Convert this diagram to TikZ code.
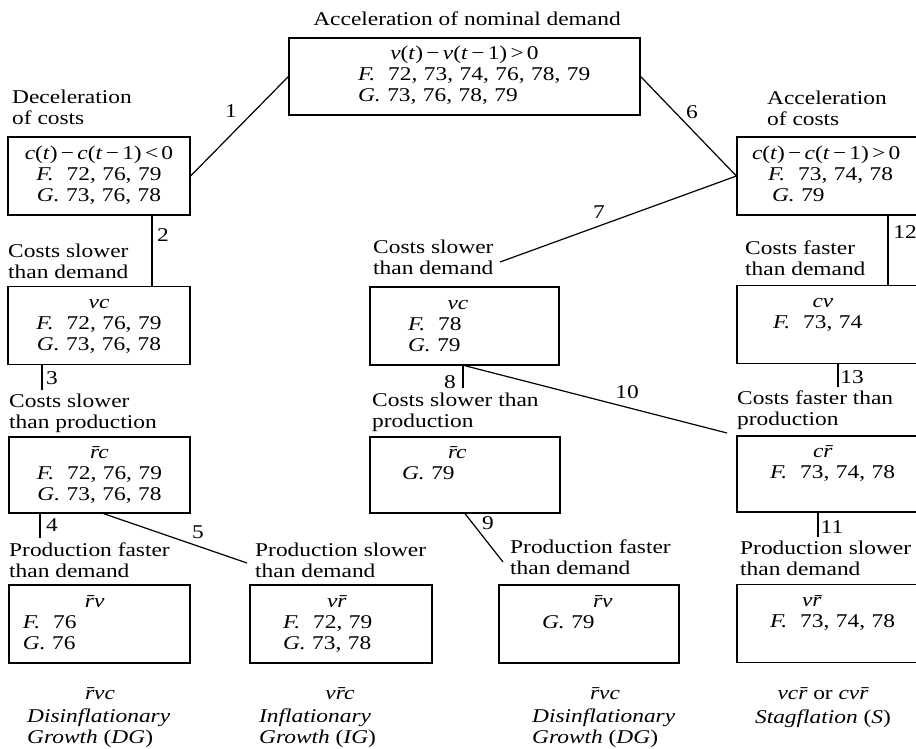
\documentclass[tikz,border=0pt]{standalone}
\usepackage{fontspec}
\setmainfont{Liberation Serif}[FakeStretch=1.2]
\setlength{\parindent}{0pt}

% one line of a box: centred, or set in from the left edge
\newcommand\ctr[2][\hsize]{\makebox[#1]{\strut#2}}
\newcommand\lft[2]{\makebox[\hsize][l]{\hspace*{#1}\strut#2}}
\newcommand\iv[1]{\textit{#1}}
\newcommand\rb{\=r}

\begin{document}
\begin{tikzpicture}[x=1pt,y=-1pt,
    font=\fontsize{19.5}{21}\selectfont,
    box/.style={draw,line width=1.2pt,inner sep=0pt,minimum height=78pt,align=left},
    head/.style={anchor=north west,inner sep=0pt,align=left},
    num/.style={inner sep=0pt},
    link/.style={line width=1.2pt}]
  \useasboundingbox (0,0) rectangle (916,748);
  \clip (0,0) rectangle (916,748);

% top of the tree
  \node[anchor=base,inner sep=0pt] (title) at (467,25) {Acceleration of nominal demand};
  \node[box,text width=351pt,minimum height=77pt] (top) at (464.5,76.5)
    {\ctr{\iv{v}(\iv{t})\,−\,\iv{v}(\iv{t}\,−\,1)\,>\,0}\\
     \lft{69pt}{\iv{F.}\ \ 72, 73, 74, 76, 78, 79}\\
     \lft{69pt}{\iv{G.} 73, 76, 78, 79}};

% deceleration of costs (left branch)
  \node[head] (hdec) at (12,88.3) {\strut Deceleration\\of costs};
  \node[box,text width=182pt] (dec) at (99,176)
    {\ctr{\iv{c}(\iv{t})\,−\,\iv{c}(\iv{t}\,−\,1)\,<\,0}\\
     \ctr{\iv{F.}\ \ 72, 76, 79}\\
     \ctr{\iv{G.} 73, 76, 78}};

% acceleration of costs (right branch)
  \node[head] (hacc) at (767,89.3) {\strut Acceleration\\of costs};
  \node[box,text width=200pt] (acc) at (837,176)
    {\lft{15pt}{\iv{c}(\iv{t})\,−\,\iv{c}(\iv{t}\,−\,1)\,>\,0}\\
     \lft{31pt}{\iv{F.}\ \ 73, 74, 78}\\
     \lft{35pt}{\iv{G.} 79}};

% second row
  \node[head] (hlvc) at (8,242.3) {\strut Costs slower\\than demand};
  \node[box,text width=182pt] (lvc) at (99,325.5)
    {\ctr{\iv{vc}}\\
     \ctr{\iv{F.}\ \ 72, 76, 79}\\
     \ctr{\iv{G.} 73, 76, 78}};
  \node[head] (hmvc) at (373,238.3) {\strut Costs slower\\than demand};
  \node[box,text width=189pt] (mvc) at (464.5,326)
    {\lft{77.5pt}{\iv{vc}}\\
     \lft{38pt}{\iv{F.}\ \ 78}\\
     \lft{38pt}{\iv{G.} 79}};
  \node[head] (hcv) at (745,239.3) {\strut Costs faster\\than demand};
  \node[box,text width=200pt] (cv) at (837,324.5)
    {\lft{75.5pt}{\iv{cv}}\\
     \lft{36pt}{\iv{F.}\ \ 73, 74}\\
     \strut};

% third row
  \node[head] (hlrc) at (9,392.3) {\strut Costs slower\\than production};
  \node[box,text width=181pt,minimum height=76pt] (lrc) at (99.5,475)
    {\ctr{\iv{\rb c}}\\
     \ctr{\iv{F.}\ \ 72, 76, 79}\\
     \ctr{\iv{G.} 73, 76, 78}};
  \node[head] (hmrc) at (372,391.3) {\strut Costs slower than\\production};
  \node[box,text width=190pt,minimum height=76pt] (mrc) at (465,475)
    {\lft{78pt}{\iv{\rb c}}\\
     \lft{32pt}{\iv{G.} 79}\\
     \strut};
  \node[head] (hcr) at (737,389.3) {\strut Costs faster than\\production};
  \node[box,text width=200pt,minimum height=76pt] (cr) at (837,474)
    {\lft{76pt}{\iv{c\rb}}\\
     \lft{33pt}{\iv{F.}\ \ 73, 74, 78}\\
     \strut};

% fourth row
  \node[head] (hlrv) at (9,541.3) {\strut Production faster\\than demand};
  \node[box,text width=181pt] (lrv) at (99.5,624)
    {\lft{76pt}{\iv{\rb v}}\\
     \lft{14pt}{\iv{F.}\ \ 76}\\
     \lft{14pt}{\iv{G.} 76}};
  \node[head] (hvr) at (255,541.3) {\strut Production slower\\than demand};
  \node[box,text width=182pt] (vr) at (341,624)
    {\lft{77pt}{\iv{v\rb}}\\
     \lft{33pt}{\iv{F.}\ \ 72, 79}\\
     \lft{33pt}{\iv{G.} 73, 78}};
  \node[head] (hmrv) at (510,538.3) {\strut Production faster\\than demand};
  \node[box,text width=180pt] (mrv) at (589,624)
    {\lft{94pt}{\iv{\rb v}}\\
     \lft{43pt}{\iv{G.} 79}\\
     \strut};
  \node[head] (hrvr) at (740,539.3) {\strut Production slower\\than demand};
  \node[box,text width=200pt] (rvr) at (837,623.5)
    {\lft{65pt}{\iv{v\rb}}\\
     \lft{33pt}{\iv{F.}\ \ 73, 74, 78}\\
     \strut};

% outcomes
  \node[anchor=base,inner sep=0pt] (s1) at (100,699) {\iv{\rb vc}};
  \node[head] (n1) at (27,707.3) {\strut\iv{Disinflationary}\\\iv{Growth} (\iv{DG})};
  \node[anchor=base,inner sep=0pt] (s2) at (340,699) {\iv{v\rb c}};
  \node[head] (n2) at (259,707.3) {\strut\iv{Inflationary}\\\iv{Growth} (\iv{IG})};
  \node[anchor=base,inner sep=0pt] (s3) at (605,699) {\iv{\rb vc}};
  \node[head] (n3) at (532,707.3) {\strut\iv{Disinflationary}\\\iv{Growth} (\iv{DG})};
  \node[anchor=base,inner sep=0pt] (s4) at (823,699) {{\itshape vc\rb} or {\itshape cv\rb}};
  \node[anchor=base,inner sep=0pt] (n4) at (823,723) {\iv{Stagflation} (\iv{S})};

% connectors
  \coordinate (x2) at (152,0);
  \coordinate (e3) at (42,390);
  \coordinate (e4) at (40,538);
  \coordinate (e5) at (247,563);
  \coordinate (e7) at (500,262);
  \coordinate (e8) at (463,388);
  \coordinate (e9) at (503,562);
  \coordinate (e10) at (727,433);
  \coordinate (e11) at (818,537);
  \coordinate (x12) at (888,0);
  \coordinate (e13) at (838,387);

  \draw[link] (dec.east) -- (top.west);
  \draw[link] (x2 |- dec.south) -- (x2 |- lvc.north);
  \draw[link] (e3 |- lvc.south) -- (e3);
  \draw[link] (e4 |- lrc.south) -- (e4);
  \draw[link] ([xshift=4pt]lrc.south) -- (e5);
  \draw[link] (top.east) -- (acc.west);
  \draw[link] (acc.west) -- (e7);
  \draw[link] (e8 |- mvc.south) -- (e8);
  \draw[link] (mrc.south) -- (e9);
  \draw[link] (mvc.south) -- (e10);
  \draw[link] (e11 |- cr.south) -- (e11);
  \draw[link] (x12 |- acc.south) -- (x12 |- cv.north);
  \draw[link] (e13 |- cv.south) -- (e13);

% connector numbers
  \node[num] (l1) at (231,111) {1};
  \node[num] (l2) at (163,235) {2};
  \node[num] (l3) at (52,378) {3};
  \node[num] (l4) at (52,525) {4};
  \node[num] (l5) at (198,532) {5};
  \node[num] (l6) at (692,112) {6};
  \node[num] (l7) at (599,212) {7};
  \node[num] (l8) at (450,382) {8};
  \node[num] (l9) at (488,523) {9};
  \node[num] (l10) at (627,392) {10};
  \node[num] (l11) at (832,527) {11};
  \node[num] (l12) at (905,232) {12};
  \node[num] (l13) at (852,377) {13};
\end{tikzpicture}
\end{document}
